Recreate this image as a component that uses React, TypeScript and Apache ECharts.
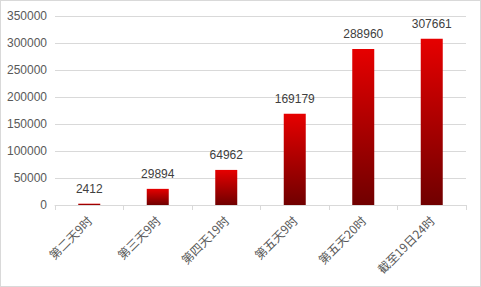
import React, { useEffect, useRef } from "react";
import * as echarts from "echarts";

const categories = ["第二天9时", "第三天9时", "第四天19时", "第五天9时", "第五天20时", "截至19日24时"];
const values = [2412, 29894, 64962, 169179, 288960, 307661];
const yTicks = [0, 50000, 100000, 150000, 200000, 250000, 300000, 350000];

export default function App() {
  const ref = useRef<HTMLDivElement>(null);
  useEffect(() => {
    const chart = echarts.init(ref.current!, null, { renderer: "svg" });
    chart.setOption({
      animation: false,
      backgroundColor: "#fff",
      grid: { left: 54, right: 14, top: 15, bottom: 81, containLabel: false },
      xAxis: {
        type: "category",
        data: categories,
        axisLine: { lineStyle: { color: "#d9d9d9" } },
        axisTick: { show: true, length: 5, lineStyle: { color: "#d9d9d9" } },
        axisLabel: {
          rotate: 45,
          color: "#595959",
          fontSize: 12,
          fontFamily: "Noto Sans CJK SC, sans-serif",
          interval: 0,
          margin: 13,
        },
      },
      yAxis: {
        type: "value",
        min: yTicks[0],
        max: yTicks[yTicks.length - 1],
        interval: 50000,
        axisLine: { show: false },
        axisTick: { show: false },
        splitLine: { lineStyle: { color: "#d9d9d9" } },
        axisLabel: {
          color: "#595959",
          fontSize: 12,
          fontFamily: "Liberation Sans, sans-serif",
          margin: 8,
          formatter: (v: number) => String(v),
        },
      },
      series: [
        {
          type: "bar",
          data: values,
          barWidth: 22,
          itemStyle: {
            color: new echarts.graphic.LinearGradient(0, 0, 0, 1, [
              { offset: 0, color: "#e60000" },
              { offset: 1, color: "#700000" },
            ]),
          },
          label: {
            show: true,
            position: "top",
            distance: 9,
            color: "#404040",
            fontSize: 12,
            fontFamily: "Liberation Sans, sans-serif",
          },
        },
      ],
    });
    return () => chart.dispose();
  }, []);
  return (
    <div
      style={{
        position: "fixed",
        left: 0,
        top: 0,
        width: 481,
        height: 287,
        boxSizing: "border-box",
        border: "1px solid #d9d9d9",
      }}
    >
      <div ref={ref} style={{ width: 479, height: 285 }} />
    </div>
  );
}
